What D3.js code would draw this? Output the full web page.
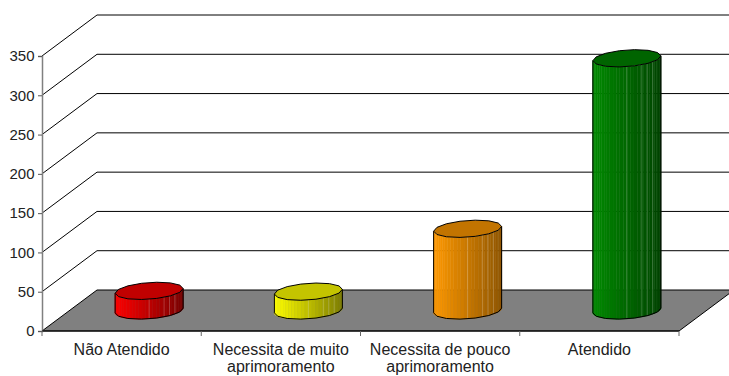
<!DOCTYPE html>
<html>
<head>
<meta charset="utf-8">
<script src="https://cdn.jsdelivr.net/npm/d3@7/dist/d3.min.js"></script>
<style>
html,body{margin:0;padding:0;background:#fff;overflow:hidden;}
svg{display:block;}
text{font-family:"Liberation Sans",Arial,sans-serif;font-size:16px;fill:#222;}
</style>
</head>
<body>
<svg id="chart" width="729" height="376"></svg>
<script>
const categories = ["Não Atendido","Necessita de muito aprimoramento","Necessita de pouco aprimoramento","Atendido"];
const values = [25, 24, 104, 321];
const yTicks = [0,50,100,150,200,250,300,350];
const sideColors = [["#ff0000","#7a0000"],["#ffff00","#7d7d00"],["#ff9900","#8f5600"],["#008a00","#004400"]];
const topColors = ["#c00000","#c4c400","#c27400","#006400"];

const svg = d3.select("#chart");
const x = d3.scaleBand().domain(categories).range([42,679]);
const y = d3.scaleLinear().domain([0,350]).range([331,56]);
const depth = {dx:55, dy:-41};

// floor
svg.append("path")
  .attr("d", d3.line()([[x.range()[0],y(0)],[x.range()[0]+depth.dx,y(0)+depth.dy],[x.range()[1]+depth.dx,y(0)+depth.dy],[x.range()[1],y(0)]])+"Z")
  .attr("fill","#808080").attr("stroke","#000").attr("stroke-width",1);

// walls and gridlines
const grid = svg.append("g").attr("fill","none").attr("stroke","#000").attr("stroke-width",1);
yTicks.forEach(t=>{
  if(t>0){
    grid.append("path").attr("d", d3.line()([[42,y(t)],[42+depth.dx,y(t)+depth.dy],[729,y(t)+depth.dy]]));
  }
});

// axes
const yAxis = d3.axisLeft(y).tickValues(yTicks).tickSize(4).tickPadding(3.5);
const gy = svg.append("g").attr("transform","translate(42,0)").call(yAxis);
gy.select(".domain").attr("stroke","#808080").attr("stroke-width",1.5);
gy.selectAll("line").attr("stroke","#555");
gy.selectAll("text").style("font-size","15px").style("font-family",'"Liberation Sans",Arial,sans-serif').style("fill","#222");

const gx = svg.append("g").attr("transform","translate(0,331)");
gx.append("line").attr("x1",42).attr("x2",679).attr("stroke","#000");
const edges = categories.map(c=>x(c)).concat([x.range()[1]]);
gx.selectAll(".edge").data(edges).join("line").attr("class","edge")
  .attr("x1",d=>d).attr("x2",d=>d).attr("y1",0).attr("y2",5).attr("stroke","#666");

const wrapAt = x.bandwidth();
categories.forEach(c=>{
  const t = gx.append("text").attr("text-anchor","middle").attr("y",24);
  const cx = x(c)+x.bandwidth()/2;
  let line=[], ts=t.append("tspan").attr("x",cx);
  c.split(" ").forEach(w=>{
    line.push(w);
    ts.text(line.join(" "));
    if(ts.node().getComputedTextLength()>wrapAt-8 && line.length>1){
      line.pop(); ts.text(line.join(" "));
      line=[w];
      ts=t.append("tspan").attr("x",cx).attr("dy",17).text(w);
    }
  });
});

// cylinders
const rx = 34, ry = 8.3, slope = -0.07, nFacets = 14;
const ang = d3.range(nFacets).map(i=>i/nFacets*2*Math.PI);
function ell(cx,cy,a){
  const px = rx*Math.cos(a);
  return [cx+px, cy+ry*Math.sin(a)+slope*px];
}
const bars = svg.append("g");
categories.forEach((c,i)=>{
  const cx = x(c)+x.bandwidth()/2+depth.dx/2;
  const y0 = y(0)+depth.dy/2;
  const y1 = y(values[i])+depth.dy/2;
  const shade = d3.scaleLinear().domain([cx-rx,cx+rx]).range(sideColors[i]);
  const g = bars.append("g");
  const nStrips = 30;
  d3.range(nStrips).map(k=>Math.PI-k*Math.PI/nStrips).forEach(a=>{
    const a2 = a-Math.PI/nStrips;
    const A=ell(cx,y0,a), B=ell(cx,y0,a2), C=ell(cx,y1,a2), D=ell(cx,y1,a);
    g.append("path").attr("d",d3.line()([A,B,C,D])+"Z")
      .attr("fill",shade((A[0]+B[0])/2)).attr("stroke",shade((A[0]+B[0])/2)).attr("stroke-width",0.5);
  });
  // light facet edges
  [0.5,0.72,0.8,0.88].forEach(fr=>{
    const a=Math.acos(2*fr-1);
    const P=ell(cx,y0,a),Q=ell(cx,y1,a);
    g.append("line").attr("x1",P[0]).attr("y1",P[1]).attr("x2",Q[0]).attr("y2",Q[1])
      .attr("stroke","#fff").attr("stroke-opacity",0.22).attr("stroke-width",1);
  });
  // outline of the side
  const front = d3.range(0,nFacets/2+1).map(k=>ell(cx,y0,k*2*Math.PI/nFacets));
  const L=ell(cx,y1,Math.PI), R=ell(cx,y1,0);
  g.append("path").attr("d",d3.line()([R,...front,L]))
    .attr("fill","none").attr("stroke","#000").attr("stroke-width",1);
  // top
  g.append("path").attr("d",d3.line()(ang.map(a=>ell(cx,y1,a)))+"Z")
    .attr("fill",topColors[i]).attr("stroke","#000").attr("stroke-width",1);
});
</script>
</body>
</html>
